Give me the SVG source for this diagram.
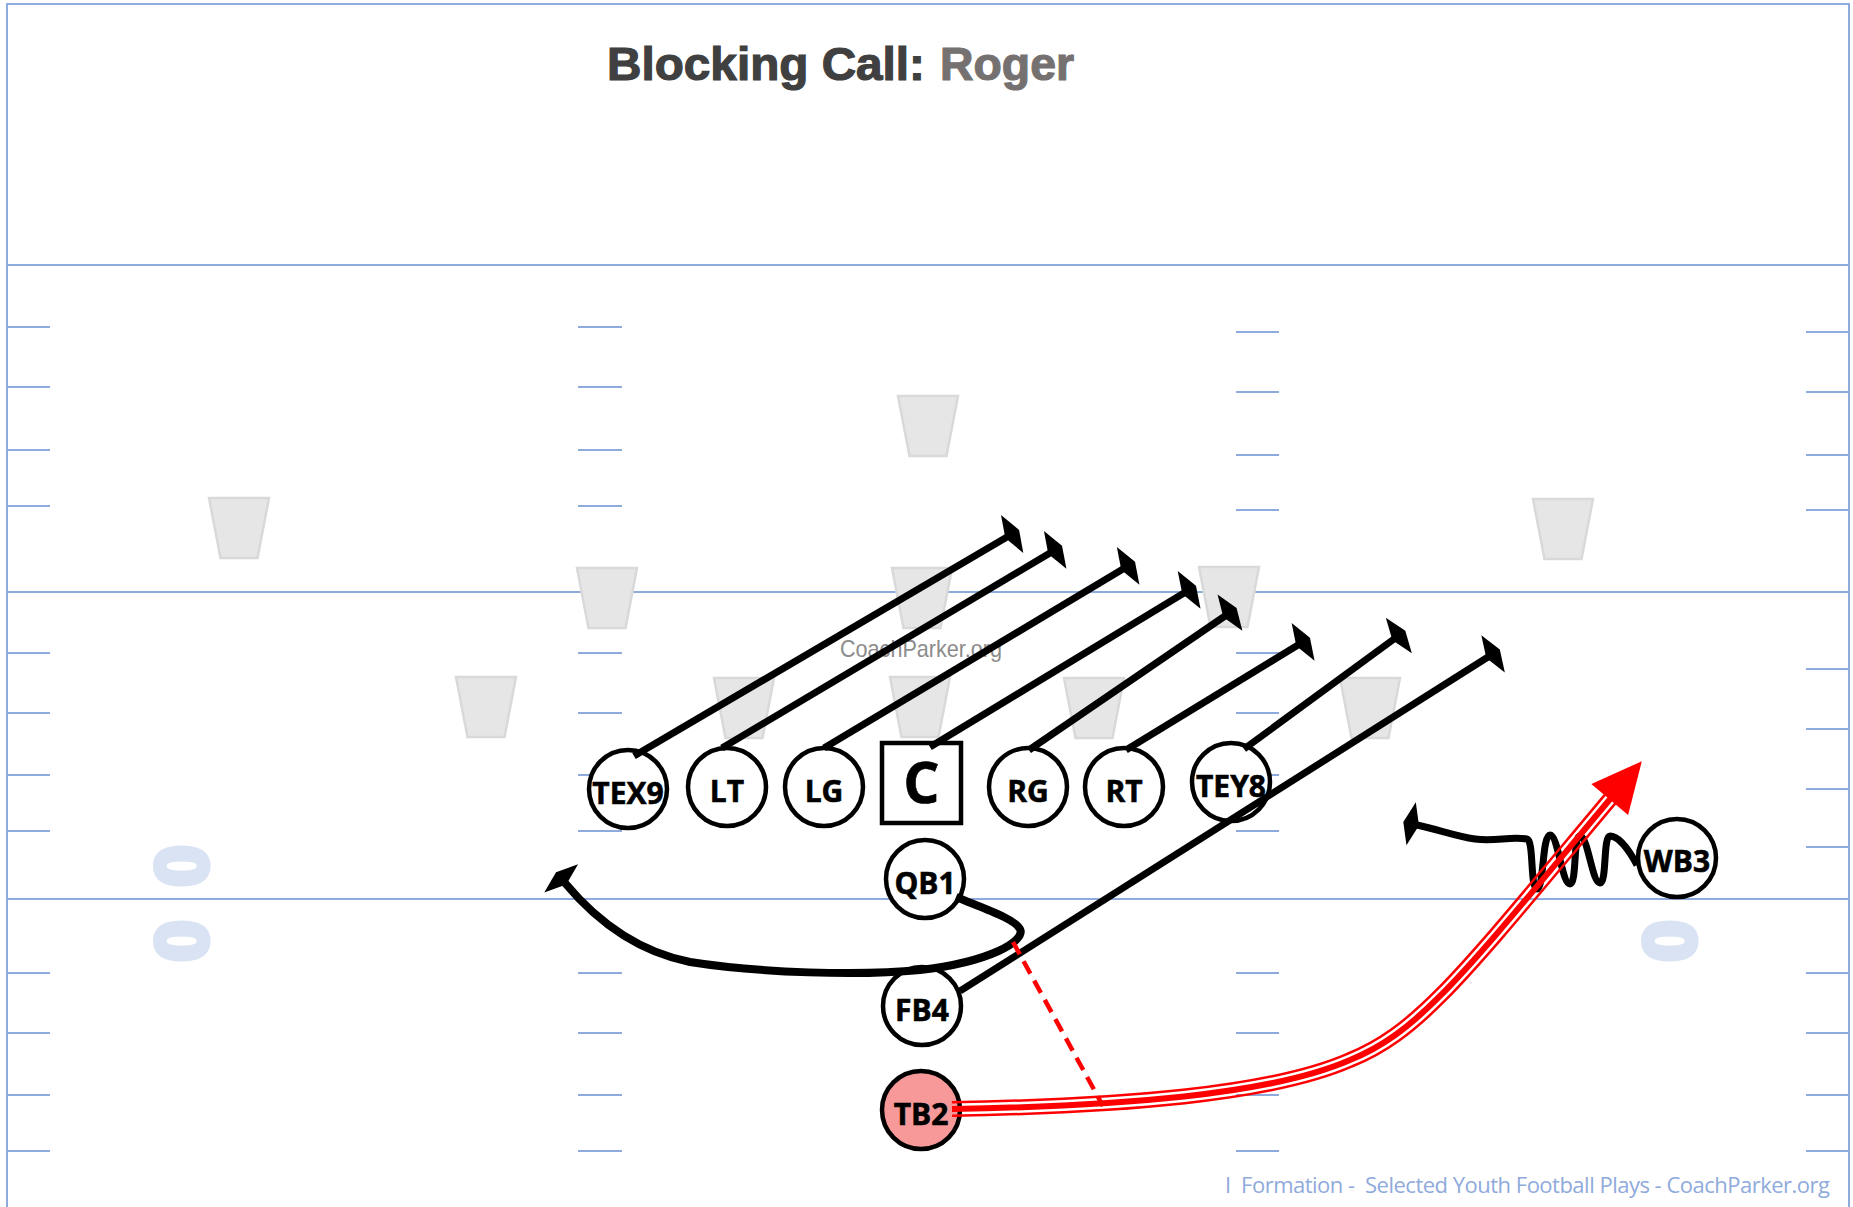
<svg xmlns="http://www.w3.org/2000/svg" width="1853" height="1207" viewBox="0 0 1853 1207">
<style>
.fld{fill:none;stroke:#8FAADC;stroke-width:2}
.cone{fill:#E6E6E6;stroke:#D9D9D9;stroke-width:2.5}
.zero{font-family:"Open Sans","DejaVu Sans",sans-serif;font-weight:700;font-size:72px;fill:#DAE3F3;stroke:#DAE3F3;stroke-width:5;stroke-linejoin:round;text-anchor:middle}
.node{fill:#fff;stroke:#000;stroke-width:4.5}
.lbl{font-family:"Open Sans","DejaVu Sans",sans-serif;font-weight:700;font-size:30px;fill:#000;stroke:#000;stroke-width:0.6;text-anchor:middle}
.big{font-size:57px}
.blk{fill:none;stroke:#000;stroke-width:7;marker-end:url(#head)}
.thick{stroke-width:8}
.ttl{font-family:"Liberation Sans",Arial,sans-serif;font-weight:700;font-size:47px;stroke-width:1.2}
</style>
<defs>
<path id="cone" d="M0,0 H60 L48.5,60 H11.5 Z"/>
<marker id="head" markerUnits="userSpaceOnUse" markerWidth="60" markerHeight="60" refX="0" refY="0" orient="auto" overflow="visible">
<path d="M-2,0 L6,-22 L14,0 L6,22 Z" fill="#000"/>
</marker>
<marker id="redhead" markerUnits="userSpaceOnUse" markerWidth="80" markerHeight="80" refX="0" refY="0" orient="auto" overflow="visible">
<path d="M-2,-24 L48,0 L-2,24 Z" fill="#FF0000"/>
</marker>
<mask id="gap" maskUnits="userSpaceOnUse" x="0" y="0" width="1853" height="1207">
<rect width="1853" height="1207" fill="#fff"/>
<path d="M952,1109 C1120,1106 1270,1095 1350,1060 C1420,1032 1465,972 1611,798" fill="none" stroke="#000" stroke-width="11"/>
</mask>
</defs>
<rect width="1853" height="1207" fill="#fff"/>
<g id="field">
<path class="fld" d="M7,1207 V4 H1849 V1207"/>
<path class="fld" d="M7,265 H1849 M7,592 H1849 M7,899 H1849"/>
<path class="fld" d="M7,327h43 M7,387h43 M7,450h43 M7,506h43 M7,653h43 M7,713h43 M7,775h43 M7,831h43 M7,973h43 M7,1033h43 M7,1095h43 M7,1151h43
M578,327h44 M578,387h44 M578,450h44 M578,506h44 M578,653h44 M578,713h44 M578,775h44 M578,831h44 M578,973h44 M578,1033h44 M578,1095h44 M578,1151h44
M1236,332h43 M1236,392h43 M1236,455h43 M1236,510h43 M1236,653h43 M1236,713h43 M1236,775h43 M1236,831h43 M1236,973h43 M1236,1033h43 M1236,1095h43 M1236,1151h43
M1806,332h43 M1806,392h43 M1806,455h43 M1806,510h43 M1806,669h43 M1806,729h43 M1806,789h43 M1806,847h43 M1806,973h43 M1806,1033h43 M1806,1095h43 M1806,1151h43"/>
<text class="zero" transform="translate(182,866) rotate(90)" y="25.7">0</text>
<text class="zero" transform="translate(182,941) rotate(90)" y="25.7">0</text>
<text class="zero" transform="translate(1670,941) rotate(90)" y="25.7">0</text>
</g>
<g id="cones" class="cone">
<use href="#cone" x="209" y="498"/>
<use href="#cone" x="577" y="568"/>
<use href="#cone" x="456" y="677"/>
<use href="#cone" x="898" y="396"/>
<use href="#cone" x="892" y="568"/>
<use href="#cone" x="714" y="678"/>
<use href="#cone" x="890" y="677"/>
<use href="#cone" x="1064" y="678"/>
<use href="#cone" x="1199" y="567"/>
<use href="#cone" x="1340" y="678"/>
<use href="#cone" x="1533" y="499"/>
</g>
<text id="watermark" x="840" y="657" font-family="Liberation Sans, Arial, sans-serif" font-size="24" fill="#8C8C8C" textLength="162" lengthAdjust="spacingAndGlyphs">CoachParker.org</text>
<g id="title">
<text class="ttl" x="607" y="80" fill="#404040" stroke="#404040" textLength="318" lengthAdjust="spacingAndGlyphs">Blocking Call:</text>
<text class="ttl" x="940" y="80" fill="#767171" stroke="#767171" textLength="134" lengthAdjust="spacingAndGlyphs">Roger</text>
</g>
<text id="footer" x="1225" y="1193" font-family="Open Sans, sans-serif" font-size="22" fill="#8FAADC" textLength="605" xml:space="preserve">I  Formation -  Selected Youth Football Plays - CoachParker.org</text>
<g id="node-TEX9"><circle class="node" cx="628" cy="789" r="39"/><text class="lbl" x="628" y="804">TEX9</text></g>
<g id="node-LT"><circle class="node" cx="727" cy="787" r="39"/><text class="lbl" x="727" y="802">LT</text></g>
<g id="node-LG"><circle class="node" cx="824" cy="787" r="39"/><text class="lbl" x="824" y="802">LG</text></g>
<g id="node-C"><rect class="node" x="882" y="743" width="79" height="80"/><text class="lbl big" x="921.5" y="803">C</text></g>
<g id="node-RG"><circle class="node" cx="1028" cy="787" r="39"/><text class="lbl" x="1028" y="802">RG</text></g>
<g id="node-RT"><circle class="node" cx="1124" cy="787" r="39"/><text class="lbl" x="1124" y="802">RT</text></g>
<g id="node-TEY8"><circle class="node" cx="1231" cy="782" r="39"/><text class="lbl" x="1231" y="797">TEY8</text></g>
<g id="node-QB1"><circle class="node" cx="925" cy="879" r="39"/><text class="lbl" x="925" y="894">QB1</text></g>
<g id="node-FB4"><circle class="node" cx="922" cy="1006" r="39"/><text class="lbl" x="922" y="1021">FB4</text></g>
<g id="node-TB2"><circle class="node" cx="921" cy="1110" r="39" style="fill:#F79999"/><text class="lbl" x="921" y="1125">TB2</text></g>
<g id="node-WB3"><circle class="node" cx="1677" cy="858" r="39"/><text class="lbl" x="1677" y="872">WB3</text></g>
<g id="connectors">
<path class="blk" d="M634,756 L1007,537"/>
<path class="blk" d="M722,748 L1050,553"/>
<path class="blk" d="M824,748 L1123,569"/>
<path class="blk" d="M930,747 L1184,593"/>
<path class="blk" d="M1029,750 L1225,616"/>
<path class="blk" d="M1126,750 L1298,645"/>
<path class="blk" d="M1244,749 L1394,639"/>
<path class="blk" d="M960,991 L1488,657"/>
<path class="blk thick" d="M956,897 C985,909 1015,919 1020,929 C1026,941 990,962 920,970 C860,976 760,973 690,962 C640,952 600,925 565,883"/>
<path class="blk" d="M1637,865 C1628,848 1618,836 1610,836 C1603,836 1607,883 1600,883 C1592,883 1588,836 1580,836 C1573,836 1577,884 1570,884 C1562,884 1558,835 1550,835 C1542,835 1544,889 1537,889 C1530,889 1534,840 1527,839 C1510,836 1495,842 1475,839 C1455,836 1440,830 1417,825"/>
<path d="M1013,942 L1103,1106" fill="none" stroke="#FF0000" stroke-width="4.5" stroke-dasharray="14 8"/>
<path d="M952,1109 C1120,1106 1270,1095 1350,1060 C1420,1032 1465,972 1611,798" fill="none" stroke="#FF0000" stroke-width="16" mask="url(#gap)"/>
<path d="M952,1109 C1120,1106 1270,1095 1350,1060 C1420,1032 1465,972 1611,798" fill="none" stroke="#FF0000" stroke-width="6" marker-end="url(#redhead)"/>
</g>
</svg>
